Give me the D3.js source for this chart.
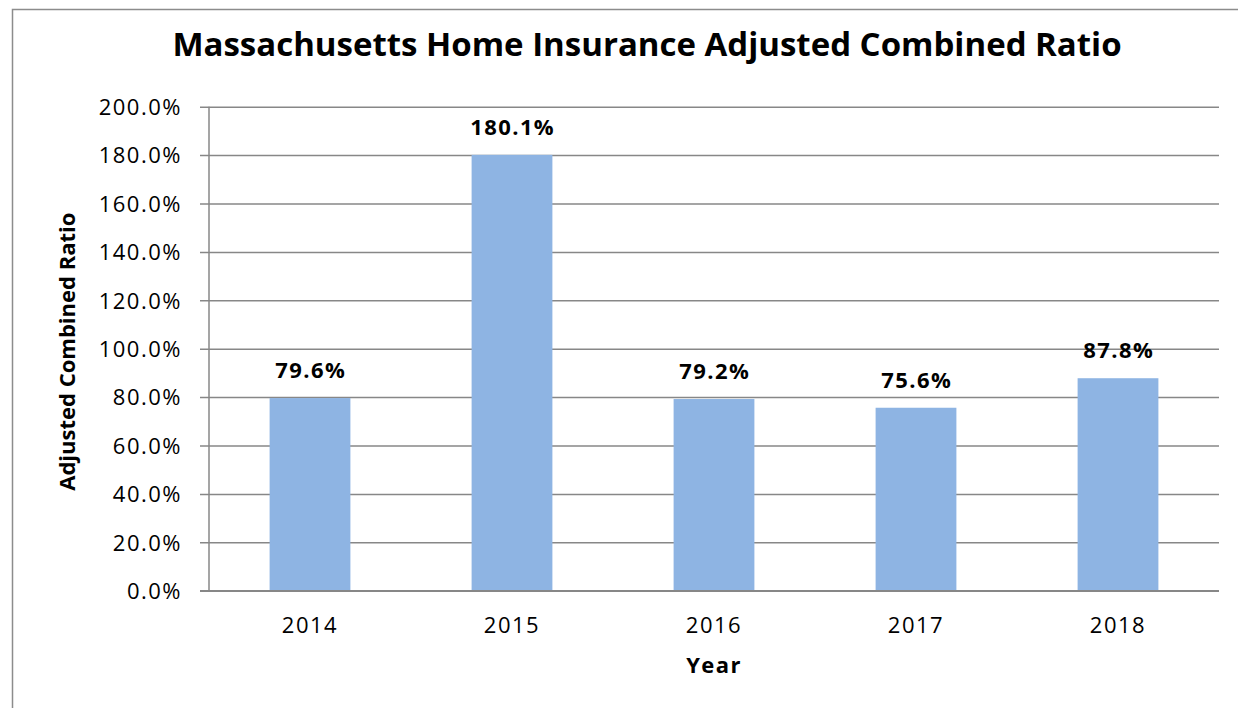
<!DOCTYPE html>
<html>
<head>
<meta charset="utf-8">
<script src="https://cdn.jsdelivr.net/npm/d3@7"></script>
<style>
  html, body { margin: 0; padding: 0; background: #fff; }
  svg { display: block; }
  text { font-family: "Open Sans", sans-serif; fill: #000; }
</style>
</head>
<body>
<svg id="chart" width="1238" height="708"></svg>
<script>
const titleText = "Massachusetts Home Insurance Adjusted Combined Ratio";
const categories = ["2014", "2015", "2016", "2017", "2018"];
const values = [79.6, 180.1, 79.2, 75.6, 87.8];
const valueLabels = ["79.6%", "180.1%", "79.2%", "75.6%", "87.8%"];
const yTicks = [0, 20, 40, 60, 80, 100, 120, 140, 160, 180, 200];
const yAxisTitle = "Adjusted Combined Ratio";
const xAxisTitle = "Year";

const svg = d3.select("#chart");
const plot = { left: 209, right: 1219, top: 106.7, bottom: 590.7 };
const gridColor = "#878787";

// outer frame
svg.append("rect")
  .attr("x", 12.5).attr("y", 9.5)
  .attr("width", 1240).attr("height", 720)
  .attr("fill", "#fff").attr("stroke", "#8c8c8c").attr("stroke-width", 1.5);

const x = d3.scaleBand().domain(categories)
  .range([plot.left, plot.right]).paddingInner(0.6).paddingOuter(0.3);
const y = d3.scaleLinear().domain([0, 200]).range([plot.bottom, plot.top]);

// gridlines + y ticks
const yAxis = d3.axisLeft(y).tickValues(yTicks)
  .tickSize(-(plot.right - plot.left)).tickSizeOuter(0)
  .tickFormat(d => d.toFixed(1) + "%");
const gy = svg.append("g").attr("transform", `translate(${plot.left},0)`).call(yAxis);
gy.select(".domain").remove();
gy.selectAll(".tick line")
  .attr("x1", -9)
  .attr("stroke", gridColor).attr("stroke-width", 1.5);
gy.selectAll(".tick text")
  .attr("x", -27).attr("dy", "0.35em")
  .style("font-size", "22px").style("letter-spacing", "1.5px")
  .attr("fill", "#000");

// vertical axis line
svg.append("line")
  .attr("x1", plot.left).attr("x2", plot.left)
  .attr("y1", plot.top).attr("y2", plot.bottom)
  .attr("stroke", gridColor).attr("stroke-width", 1.5);

// bars
svg.append("g").selectAll("rect").data(values).join("rect")
  .attr("x", (d, i) => x(categories[i]))
  .attr("width", x.bandwidth())
  .attr("y", d => y(d))
  .attr("height", d => y(0) - y(d))
  .attr("fill", "#8EB4E3");

// x axis baseline
svg.append("line")
  .attr("x1", plot.left - 9).attr("x2", plot.right)
  .attr("y1", plot.bottom).attr("y2", plot.bottom)
  .attr("stroke", gridColor).attr("stroke-width", 1.5);

// x axis labels
const xAxis = d3.axisBottom(x).tickSize(0).tickSizeOuter(0);
const gx = svg.append("g").attr("transform", `translate(0,${plot.bottom})`).call(xAxis);
gx.select(".domain").remove();
gx.selectAll(".tick text")
  .attr("y", 42).attr("dy", 0)
  .style("font-size", "22px").style("letter-spacing", "1.5px")
  .attr("fill", "#000");

// data labels
svg.append("g").selectAll("text").data(values).join("text")
  .attr("x", (d, i) => x(categories[i]) + x.bandwidth() / 2 + 0.7)
  .attr("y", d => y(d) - 20)
  .attr("text-anchor", "middle")
  .style("font-size", "22px").style("font-weight", "bold").style("letter-spacing", "1.4px")
  .text((d, i) => valueLabels[i]);

// title
svg.append("text")
  .attr("x", (plot.left + plot.right) / 2 - 67).attr("y", 56)
  .attr("text-anchor", "middle")
  .style("font-size", "33px").style("font-weight", "bold")
  .text(titleText);

// y axis title
svg.append("text")
  .attr("transform", `translate(75,${(plot.top + plot.bottom) / 2 + 3}) rotate(-90)`)
  .attr("text-anchor", "middle")
  .style("font-size", "22px").style("font-weight", "bold")
  .text(yAxisTitle);

// x axis title
svg.append("text")
  .attr("x", (plot.left + plot.right) / 2).attr("y", 673)
  .attr("text-anchor", "middle")
  .style("font-size", "22px").style("font-weight", "bold").style("letter-spacing", "1.4px")
  .text(xAxisTitle);
</script>
</body>
</html>
